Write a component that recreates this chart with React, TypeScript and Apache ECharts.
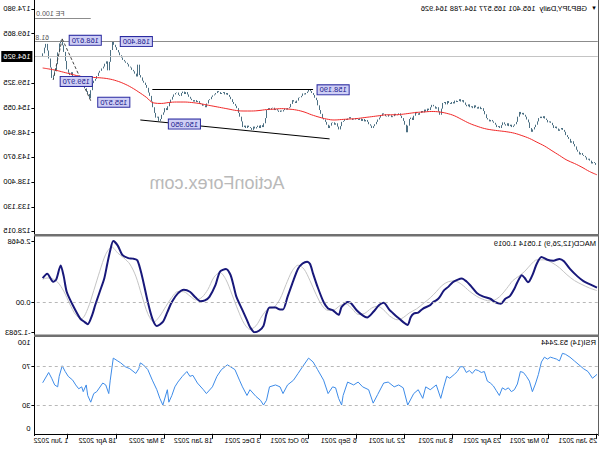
import { useEffect, useRef } from "react";
import * as echarts from "echarts";

// ---------- data ----------
const closes = [
  142.0,142.4,142.6,142.3,142.9,143.3,143.1,143.6,143.9,144.1,
  144.5,144.2,144.8,145.2,145.9,146.4,147.0,146.7,147.5,147.9,148.3,
  149.0,149.4,149.8,149.5,149.2,149.7,150.1,149.8,150.4,
  150.9,151.2,151.0,151.5,151.8,152.3,151.9,152.2,151.9,151.2,150.5,
  150.0,149.5,149.0,149.8,151.0,151.6,152.2,152.6,153.0,152.7,153.2,152.2,151.1,
  150.6,150.3,150.0,150.5,150.2,150.8,150.3,150.6,151.0,150.4,149.8,
  150.2,150.0,150.5,150.9,151.2,151.5,151.2,151.6,151.9,152.7,153.4,154.0,
  153.8,154.3,153.9,154.2,154.6,154.0,154.4,154.2,154.8,154.4,154.7,155.2,155.7,
  155.4,155.9,155.5,155.3,155.6,155.0,155.3,154.9,155.1,155.5,154.8,155.3,155.1,153.9,152.6,
  153.3,154.2,153.9,154.4,154.7,154.2,153.6,153.9,153.3,153.7,153.1,153.4,153.0,152.6,
  152.9,153.2,152.4,151.5,152.0,151.7,150.3,148.9,150.5,151.3,151.9,152.4,152.9,
  152.6,152.5,152.8,152.3,152.1,152.5,152.6,152.2,152.3,152.7,152.9,152.4,152.0,151.6,151.1,
  150.6,150.2,149.8,150.3,150.6,151.1,151.5,151.2,151.7,151.3,151.8,151.5,151.7,151.9,
  151.6,151.5,151.8,152.1,151.8,151.5,151.7,151.3,151.1,150.2,149.5,150.1,150.8,
  150.5,151.0,150.9,150.3,149.8,150.5,151.1,151.6,151.9,152.8,153.6,154.6,155.7,156.2,156.8,157.2,157.6,157.9,
  157.5,157.2,156.9,157.1,156.6,156.3,156.2,155.6,155.1,155.4,155.7,154.9,154.2,154.0,153.7,153.9,153.6,153.3,153.5,153.2,
  153.5,153.8,153.6,154.1,154.0,153.7,154.0,153.6,151.9,150.8,150.0,150.4,149.8,150.3,150.0,149.7,150.1,149.4,149.8,150.0,150.3,149.8,150.3,150.0,
  151.2,152.2,153.0,154.0,154.5,154.9,155.3,155.9,156.4,156.8,157.2,156.9,157.4,157.2,157.0,157.4,157.6,157.2,
  156.9,156.7,156.4,155.9,155.7,155.0,154.2,154.6,154.5,154.9,155.1,155.5,155.3,155.7,155.4,155.7,
  156.0,156.4,156.9,157.4,157.0,157.5,157.2,156.6,156.8,157.3,157.2,156.9,156.4,155.8,155.1,154.4,153.6,154.0,153.1,152.6,151.7,151.3,152.2,152.0,
  153.0,154.2,155.4,156.6,157.3,158.3,158.9,159.4,159.8,160.5,161.0,163.2,160.7,161.3,161.8,162.1,162.6,162.8,163.3,163.6,163.9,164.2,164.7,165.2,165.8,166.3,166.9,167.4,168.0,
  166.3,163.8,162.0,163.9,163.4,162.8,162.4,161.9,161.5,160.8,160.2,159.8,159.3,157.8,156.1,157.0,157.6,158.2,158.7,159.3,159.1,158.8,159.0,159.4,159.9,160.4,161.6,161.0,161.5,162.2,
  164.0,165.9,167.3,168.3,167.7,165.8,163.3,161.8,160.9,160.4,162.6,164.5,166.2,167.6,166.8,165.6,164.93
];

const maPoints: [number, number][] = [
  [0,139.9],[5,140.6],[10,141.5],[15,142.3],[20,143.0],[25,144.0],[30,145.0],[35,146.0],[40,146.8],[45,147.6],
  [50,148.2],[55,148.7],[60,149.0],[65,149.2],[70,149.4],[75,149.7],[80,150.2],[85,150.8],[90,151.6],[95,152.4],
  [100,152.9],[105,153.2],[110,153.3],[115,153.2],[120,153.1],[125,152.9],[130,152.7],[135,152.6],[140,152.6],[145,152.4],
  [150,152.2],[155,152.0],[160,151.8],[165,151.7],[170,151.6],[175,151.5],[180,151.7],[185,152.1],[190,152.6],[195,153.2],
  [200,153.6],[205,153.8],[210,153.9],[215,153.8],[220,153.7],[225,153.5],[230,153.4],[235,153.4],[240,153.5],[245,153.8],
  [250,154.1],[255,154.4],[260,154.7],[265,155.0],[270,155.2],[275,155.3],[280,155.3],[285,155.2],[290,155.0],[295,155.1],
  [300,156.3],[305,157.4],[310,158.4],[315,159.2],[320,159.8],[325,160.2],[330,160.4],[335,160.5],[340,160.6],[345,160.8],
  [350,161.2],[355,161.6],[360,162.0],[365,162.3],[369,162.5]
];

const macdMain: [number, number][] = [
  [0,0.65],[5,0.80],[9,0.93],[13,1.13],[18,1.45],[22,1.78],[25,1.88],[29,1.80],[33,1.84],[37,1.96],[40,1.68],[43,1.18],
  [45,0.92],[46,0.88],[48,1.05],[50,1.18],[53,0.88],[55,0.60],[58,0.28],[61,0.17],[64,-0.04],[68,0.03],[71,0.17],
  [76,0.27],[80,0.42],[84,0.72],[87,0.92],[90,1.04],[93,0.98],[96,0.88],[99,0.68],[102,0.52],[105,0.22],[107,0.10],
  [109,0.03],[111,-0.10],[116,-0.26],[119,-0.42],[122,-0.47],[124,-0.62],[126,-0.95],[129,-0.83],[133,-0.61],[138,-0.32],
  [142,0.0],[145,-0.10],[149,-0.40],[153,-0.63],[156,-0.54],[160,-0.32],[164,0.0],[166,0.03],[170,-0.18],[172,-0.52],
  [176,-0.32],[179,-0.25],[182,0.03],[186,0.68],[189,1.25],[191,1.66],[193,1.76],[196,1.68],[199,1.46],[202,0.97],
  [206,0.25],[209,-0.29],[211,-0.29],[214,-0.21],[218,-0.21],[220,-0.47],[222,-0.99],[225,-1.20],[228,-1.2683],
  [231,-1.04],[233,-0.75],[236,-0.32],[240,0.25],[242,0.75],[244,1.20],[247,1.45],[251,1.33],[254,0.75],[258,0.25],
  [261,0.10],[264,0.06],[267,0.21],[271,0.47],[275,0.56],[279,0.40],[283,0.03],[286,-0.40],[289,-0.82],[293,-1.0],
  [296,-0.68],[299,0.03],[303,1.18],[306,1.82],[309,1.89],[312,1.91],[316,2.05],[319,2.45],[322,2.6468],[324,2.25],
  [326,1.66],[328,1.04],[331,0.47],[334,-0.10],[336,-0.52],[339,-0.92],[341,-0.83],[344,-0.68],[349,-0.10],[353,0.47],
  [355,1.14],[357,1.60],[360,0.99],[362,0.90],[366,1.24],[369,1.0514]
];

const macdSignal: [number, number][] = [
  [0,0.52],[5,0.63],[10,0.78],[15,0.95],[20,1.20],[25,1.50],[30,1.72],[35,1.84],[40,1.84],[44,1.64],[48,1.35],
  [52,1.14],[56,0.95],[60,0.62],[64,0.31],[68,0.12],[72,0.08],[76,0.15],[80,0.27],[85,0.50],[90,0.78],[95,0.94],
  [99,0.90],[103,0.75],[107,0.47],[111,0.21],[115,0.00],[120,-0.26],[125,-0.44],[129,-0.64],[133,-0.73],[138,-0.57],
  [142,-0.31],[146,-0.15],[150,-0.23],[155,-0.47],[159,-0.50],[163,-0.26],[167,-0.05],[171,-0.12],[175,-0.31],
  [179,-0.33],[183,-0.12],[187,0.36],[191,0.94],[195,1.44],[199,1.61],[203,1.35],[207,0.78],[211,0.16],[215,-0.19],
  [219,-0.26],[223,-0.57],[227,-0.99],[231,-1.14],[235,-0.88],[239,-0.31],[243,0.36],[247,0.99],[251,1.30],
  [255,1.09],[259,0.57],[263,0.23],[267,0.12],[271,0.29],[275,0.47],[279,0.48],[283,0.23],[287,-0.16],[291,-0.57],
  [295,-0.83],[299,-0.47],[303,0.31],[307,1.14],[311,1.66],[315,1.92],[319,2.13],[323,2.39],[327,2.08],[331,1.35],
  [335,0.52],[339,-0.26],[343,-0.68],[347,-0.52],[351,-0.05],[355,0.50],[359,0.88],[363,1.04],[366,1.06],[369,1.0019]
];

const rsiPoints: [number, number][] = [
  [0,62],[3,58],[6,65],[9,68],[12,72],[15,76],[18,80],[21,83],[23,84],[25,76],[27,78],[29,79],[31,80],[33,78],
  [35,80],[37,75],[39,62],[41,52],[43,44],[45,55],[47,60],[49,64],[51,65],[53,52],[55,46],[57,44],[59,48],[61,46],
  [63,48],[65,40],[67,45],[69,50],[71,53],[73,55],[75,65],[77,64],[79,66],[81,67],[83,63],[85,66],[87,64],[89,70],
  [91,70],[93,65],[95,62],[98,58],[100,60],[102,49],[104,37],[107,51],[111,46],[114,49],[116,37],[119,46],[122,42],
  [126,30],[129,48],[132,51],[135,49],[139,54],[142,53],[146,41],[149,32],[152,46],[156,49],[159,54],[162,51],
  [166,54],[169,40],[170,30],[172,37],[174,48],[176,49],[179,42],[182,56],[186,67],[189,75],[192,79],[196,70],
  [199,63],[202,56],[206,51],[209,42],[211,49],[214,51],[218,49],[220,35],[222,30],[224,35],[227,39],[231,46],
  [233,40],[236,49],[238,56],[241,67],[244,70],[246,72],[250,67],[253,60],[256,49],[260,42],[262,46],[266,53],
  [269,61],[271,60],[273,65],[276,60],[279,54],[281,49],[283,40],[285,33],[286,46],[289,30],[291,37],[293,46],
  [296,56],[299,67],[302,72],[304,74],[305,68],[307,63],[311,68],[314,70],[317,74],[319,76],[322,79],[324,56],
  [325,42],[327,51],[329,53],[333,44],[335,42],[337,33],[339,40],[340,51],[342,44],[343,49],[345,47],[347,51],
  [349,56],[352,60],[354,65],[356,71],[358,60],[359,49],[361,51],[363,58],[365,64],[369,53.2444]
];

const dateTicks: [number, string][] = [
  [0, "25 Jan 2021"], [32, "10 Mar 2021"], [64, "23 Apr 2021"], [96, "8 Jun 2021"],
  [128, "22 Jul 2021"], [160, "6 Sep 2021"], [192, "20 Oct 2021"], [224, "3 Dec 2021"],
  [256, "18 Jan 2022"], [288, "3 Mar 2022"], [320, "18 Apr 2022"], [352, "1 Jun 2022"]
];

const priceTicks = [174.98, 169.865, 159.325, 154.055, 148.94, 143.67, 138.4, 133.13, 128.015];
const macdTicks = [2.6468, 0, -1.2683];

const priceLabels: [number, number, string][] = [
  [356, 168.67, "168.670"], [322, 168.4, "168.400"], [337, 155.57, "155.570"],
  [362, 159.97, "159.970"], [290, 150.95, "150.950"], [191, 158.19, "158.190"]
];

const SLOTS = 375;
const FONT = "Liberation Sans, Arial, sans-serif";
const BAR = "#4d7083";

export default function App() {
  const ref = useRef<HTMLDivElement>(null);
  useEffect(() => {
    const chart = echarts.init(ref.current!, null, { renderer: "svg" });
    const labelMap = new Map<number, string>(dateTicks);
    const cats = Array.from({ length: SLOTS }, (_, i) => labelMap.get(i) ?? `#${i}`);
    const candles = closes.map((c, i) => {
      const o = i ? closes[i - 1] : c;
      return [o, c, Math.min(o, c), Math.max(o, c)];
    });
    const showIdx = (i: number) => labelMap.has(i);

    const xBase = (gi: number) => ({
      type: "category" as const, gridIndex: gi, data: cats, boundaryGap: true, show: false,
    });

    const boxLabel = {
      show: true, position: "left", distance: 7, offset: [0, 1.5],
      formatter: (p: any) => p.name,
      fontSize: 7.5, fontFamily: FONT, color: "#1a1a8c", backgroundColor: "#cfcff5",
      borderColor: "#2a2aa0", borderWidth: 1, padding: [1, 2, 0, 2], lineHeight: 8,
    };

    chart.setOption({
      animation: false,
      backgroundColor: "#ffffff",
      textStyle: { fontFamily: FONT },
      grid: [
        { left: 2.25, right: 34.4, top: 3, height: 230 },
        { left: 2.25, right: 34.4, top: 241, height: 91.3 },
        { left: 2.25, right: 34.4, top: 338, height: 97 },
      ],
      xAxis: [
        xBase(0),
        xBase(1),
        {
          type: "category", gridIndex: 2, data: cats, boundaryGap: true,
          axisLine: { show: true, lineStyle: { color: "#000", width: 1 } },
          axisTick: { show: true, interval: showIdx, alignWithLabel: true, length: 5, lineStyle: { color: "#000" } },
          axisLabel: {
            show: true, interval: showIdx, align: "left", margin: 2, fontSize: 7, color: "#000",
            fontFamily: FONT, formatter: (_v: string, i: number) => labelMap.get(i) ?? "",
          },
          splitLine: { show: false },
        },
      ],
      yAxis: [
        {
          type: "value", gridIndex: 0, position: "right", min: 127.59, max: 176.249,
          axisLine: { show: false }, splitLine: { show: false },
          axisTick: { show: true, customValues: priceTicks, length: 3, lineStyle: { color: "#000" } },
          axisLabel: { show: true, customValues: priceTicks, margin: 4, fontSize: 7.5, color: "#000", fontFamily: FONT,
            formatter: (v: number) => v.toFixed(3) },
        },
        {
          type: "value", gridIndex: 1, position: "right", min: -1.2683, max: 2.6468,
          axisLine: { show: false }, splitLine: { show: false },
          axisTick: { show: true, customValues: macdTicks, length: 3, lineStyle: { color: "#000" } },
          axisLabel: { show: true, customValues: macdTicks, margin: 4, fontSize: 7.5, color: "#000", fontFamily: FONT,
            formatter: (v: number) => (v === 0 ? "0.00" : v.toFixed(4)) },
        },
        {
          type: "value", gridIndex: 2, position: "right", min: -1.25, max: 100,
          axisLine: { show: false }, splitLine: { show: false },
          axisTick: { show: true, customValues: [70, 30], length: 3, lineStyle: { color: "#000" } },
          axisLabel: { show: true, customValues: [70, 30], margin: 4, fontSize: 7.5, color: "#000", fontFamily: FONT },
        },
        {
          type: "value", gridIndex: 2, position: "right", min: -6.98, max: 105.81,
          axisLine: { show: false }, splitLine: { show: false }, axisTick: { show: false },
          axisLabel: { show: true, customValues: [100, 0], margin: 4, fontSize: 7.5, color: "#000", fontFamily: FONT },
        },
      ],
      series: [
        {
          type: "candlestick", xAxisIndex: 0, yAxisIndex: 0, data: candles, barWidth: 1.2,
          itemStyle: { color: BAR, color0: BAR, borderColor: BAR, borderColor0: BAR, borderWidth: 1 },
          z: 3,
          markLine: {
            silent: true, symbol: ["none", "none"], animation: false,
            data: [
              { yAxis: 164.926, lineStyle: { color: "#c4c4c4", type: "solid", width: 1 },
                label: { show: true, position: "end", formatter: "164.926", backgroundColor: "#000", color: "#fff",
                  fontSize: 7.5, fontFamily: FONT, padding: [2, 2, 1, 2], distance: 2 } },
              { yAxis: 168.07, lineStyle: { color: "#8c8c8c", type: "solid", width: 1 },
                label: { show: true, position: "insideEndTop", formatter: "61.8", fontSize: 7, color: "#555",
                  fontFamily: FONT, distance: 1 } },
              [
                { coord: [337, 173.07], lineStyle: { color: "#8c8c8c", type: "solid", width: 1 },
                  label: { show: true, position: "insideEndTop", formatter: "FE 100.0", fontSize: 7, color: "#555",
                    fontFamily: FONT, distance: 1 } },
                { coord: [374, 173.07] },
              ],
              [
                { coord: [189, 158.05], lineStyle: { color: "#000", type: "solid", width: 1 }, label: { show: false } },
                { coord: [296, 158.05] },
              ],
              [
                { coord: [178, 147.5], lineStyle: { color: "#000", type: "solid", width: 1 }, label: { show: false } },
                { coord: [304, 151.5] },
              ],
              [
                { coord: [337, 155.57], lineStyle: { color: "#444", type: [3, 2], width: 1 }, label: { show: false } },
                { coord: [356, 168.67] },
              ],
              [
                { coord: [356, 168.67], lineStyle: { color: "#444", type: [3, 2], width: 1 }, label: { show: false } },
                { coord: [362, 159.97] },
              ],
            ],
          },
          markPoint: {
            silent: true, animation: false, symbol: "circle", symbolSize: 1,
            itemStyle: { color: "rgba(0,0,0,0)" }, label: boxLabel,
            data: priceLabels.map(([i, p, t]) => ({ name: t, coord: [i, p] })),
          },
        },
        {
          type: "line", xAxisIndex: 0, yAxisIndex: 0, data: maPoints, smooth: 0.4, showSymbol: false,
          lineStyle: { color: "#f02828", width: 1 }, z: 4,
        },
        {
          type: "line", xAxisIndex: 1, yAxisIndex: 1, data: macdSignal, smooth: 0.3, showSymbol: false,
          lineStyle: { color: "#c4c4c4", width: 1 }, z: 3,
          markLine: {
            silent: true, symbol: ["none", "none"], animation: false, label: { show: false },
            lineStyle: { color: "#b8b8b8", type: [3, 3], width: 1 }, data: [{ yAxis: 0 }],
          },
        },
        {
          type: "line", xAxisIndex: 1, yAxisIndex: 1, data: macdMain, smooth: 0.25, showSymbol: false,
          lineStyle: { color: "#18187a", width: 2 }, z: 4,
        },
        {
          type: "line", xAxisIndex: 2, yAxisIndex: 2, data: rsiPoints, smooth: false, showSymbol: false,
          lineStyle: { color: "#3d8be8", width: 1 }, z: 4,
          markLine: {
            silent: true, symbol: ["none", "none"], animation: false, label: { show: false },
            lineStyle: { color: "#b8b8b8", type: [3, 3], width: 1 }, data: [{ yAxis: 70 }, { yAxis: 30 }],
          },
        },
      ],
      graphic: [
        { type: "line", silent: true, shape: { x1: 565.5, y1: 0, x2: 565.5, y2: 436 }, style: { stroke: "#000", lineWidth: 1 }, z: 10 },
        { type: "line", silent: true, shape: { x1: 1.5, y1: 0, x2: 1.5, y2: 436 }, style: { stroke: "#606060", lineWidth: 1 }, z: 10 },
        { type: "rect", silent: true, shape: { x: 1, y: 234, width: 565, height: 2.5 }, style: { fill: "#707070" }, z: 10 },
        { type: "rect", silent: true, shape: { x: 1, y: 334.5, width: 565, height: 2.5 }, style: { fill: "#707070" }, z: 10 },
        { type: "text", silent: true, x: 3, y: 8, style: { text: "▼", fontSize: 6, fill: "#000", fontFamily: FONT, textVerticalAlign: "middle" } },
        { type: "text", silent: true, x: 13, y: 8, style: { text: "GBPJPY,Daily  165.401 165.577 164.788 164.926", fontSize: 7.5, fill: "#000", fontFamily: FONT, textVerticalAlign: "middle" } },
        { type: "text", silent: true, x: 4, y: 243, style: { text: "MACD(12,26,9) 1.0514 1.0019", fontSize: 7.5, fill: "#000", fontFamily: FONT, textVerticalAlign: "middle" } },
        { type: "text", silent: true, x: 4, y: 342.5, style: { text: "RSI(14) 53.2444", fontSize: 7.5, fill: "#000", fontFamily: FONT, textVerticalAlign: "middle" } },
        { type: "text", silent: true, x: 383, y: 183, z: 1, style: { text: "ActionForex.com", fontSize: 18, fill: "#b9b9b9", fontFamily: FONT, textAlign: "center", textVerticalAlign: "middle" } },
      ],
    });
    return () => chart.dispose();
  }, []);

  return (
    <div
      ref={ref}
      style={{ position: "absolute", left: 0, top: 0, width: 600, height: 450, background: "#fff", transform: "scaleX(-1)" }}
    />
  );
}
